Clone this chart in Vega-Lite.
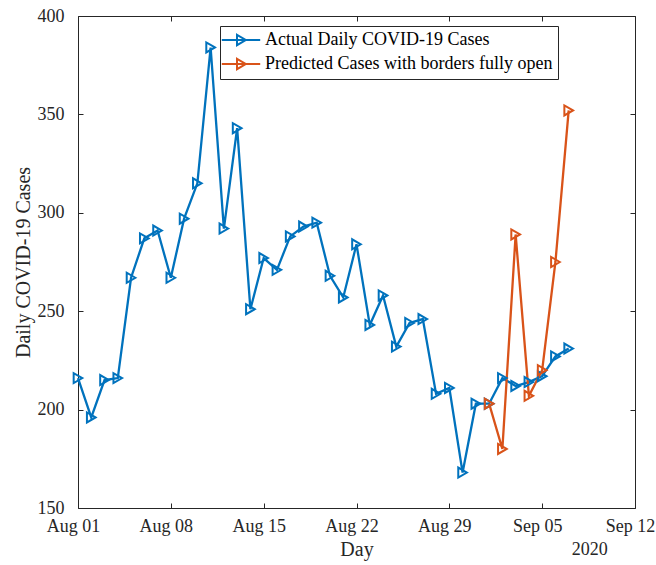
{
  "$schema": "https://vega.github.io/schema/vega-lite/v6.json",
  "width": 557,
  "height": 492,
  "autosize": "none",
  "padding": {"left": 78, "top": 16, "right": 21, "bottom": 57},
  "background": "white",
  "config": {
    "font": "Liberation Serif",
    "view": {"stroke": "#262626", "strokeWidth": 1},
    "axis": {
      "grid": false,
      "domainColor": "#262626",
      "tickColor": "#262626",
      "tickSize": -5,
      "labelFont": "Liberation Serif",
      "labelFontSize": 18,
      "labelColor": "#262626",
      "titleFont": "Liberation Serif",
      "titleFontSize": 20,
      "titleFontWeight": "normal",
      "titleColor": "#262626"
    }
  },
  "datasets": {
    "cases": [
      {"date": "2020-08-01T00:00:00", "cases": 216, "series": "Actual Daily COVID-19 Cases"},
      {"date": "2020-08-02T00:00:00", "cases": 196, "series": "Actual Daily COVID-19 Cases"},
      {"date": "2020-08-03T00:00:00", "cases": 215, "series": "Actual Daily COVID-19 Cases"},
      {"date": "2020-08-04T00:00:00", "cases": 216, "series": "Actual Daily COVID-19 Cases"},
      {"date": "2020-08-05T00:00:00", "cases": 267, "series": "Actual Daily COVID-19 Cases"},
      {"date": "2020-08-06T00:00:00", "cases": 287, "series": "Actual Daily COVID-19 Cases"},
      {"date": "2020-08-07T00:00:00", "cases": 291, "series": "Actual Daily COVID-19 Cases"},
      {"date": "2020-08-08T00:00:00", "cases": 267, "series": "Actual Daily COVID-19 Cases"},
      {"date": "2020-08-09T00:00:00", "cases": 297, "series": "Actual Daily COVID-19 Cases"},
      {"date": "2020-08-10T00:00:00", "cases": 315, "series": "Actual Daily COVID-19 Cases"},
      {"date": "2020-08-11T00:00:00", "cases": 384, "series": "Actual Daily COVID-19 Cases"},
      {"date": "2020-08-12T00:00:00", "cases": 292, "series": "Actual Daily COVID-19 Cases"},
      {"date": "2020-08-13T00:00:00", "cases": 343, "series": "Actual Daily COVID-19 Cases"},
      {"date": "2020-08-14T00:00:00", "cases": 251, "series": "Actual Daily COVID-19 Cases"},
      {"date": "2020-08-15T00:00:00", "cases": 277, "series": "Actual Daily COVID-19 Cases"},
      {"date": "2020-08-16T00:00:00", "cases": 271, "series": "Actual Daily COVID-19 Cases"},
      {"date": "2020-08-17T00:00:00", "cases": 288, "series": "Actual Daily COVID-19 Cases"},
      {"date": "2020-08-18T00:00:00", "cases": 293, "series": "Actual Daily COVID-19 Cases"},
      {"date": "2020-08-19T00:00:00", "cases": 295, "series": "Actual Daily COVID-19 Cases"},
      {"date": "2020-08-20T00:00:00", "cases": 268, "series": "Actual Daily COVID-19 Cases"},
      {"date": "2020-08-21T00:00:00", "cases": 257, "series": "Actual Daily COVID-19 Cases"},
      {"date": "2020-08-22T00:00:00", "cases": 284, "series": "Actual Daily COVID-19 Cases"},
      {"date": "2020-08-23T00:00:00", "cases": 243, "series": "Actual Daily COVID-19 Cases"},
      {"date": "2020-08-24T00:00:00", "cases": 258, "series": "Actual Daily COVID-19 Cases"},
      {"date": "2020-08-25T00:00:00", "cases": 232, "series": "Actual Daily COVID-19 Cases"},
      {"date": "2020-08-26T00:00:00", "cases": 244, "series": "Actual Daily COVID-19 Cases"},
      {"date": "2020-08-27T00:00:00", "cases": 246, "series": "Actual Daily COVID-19 Cases"},
      {"date": "2020-08-28T00:00:00", "cases": 208, "series": "Actual Daily COVID-19 Cases"},
      {"date": "2020-08-29T00:00:00", "cases": 211, "series": "Actual Daily COVID-19 Cases"},
      {"date": "2020-08-30T00:00:00", "cases": 168, "series": "Actual Daily COVID-19 Cases"},
      {"date": "2020-08-31T00:00:00", "cases": 203, "series": "Actual Daily COVID-19 Cases"},
      {"date": "2020-09-01T00:00:00", "cases": 203, "series": "Actual Daily COVID-19 Cases"},
      {"date": "2020-09-02T00:00:00", "cases": 216, "series": "Actual Daily COVID-19 Cases"},
      {"date": "2020-09-03T00:00:00", "cases": 212, "series": "Actual Daily COVID-19 Cases"},
      {"date": "2020-09-04T00:00:00", "cases": 214, "series": "Actual Daily COVID-19 Cases"},
      {"date": "2020-09-05T00:00:00", "cases": 217, "series": "Actual Daily COVID-19 Cases"},
      {"date": "2020-09-06T00:00:00", "cases": 227, "series": "Actual Daily COVID-19 Cases"},
      {"date": "2020-09-07T00:00:00", "cases": 231, "series": "Actual Daily COVID-19 Cases"},
      {"date": "2020-09-01T00:00:00", "cases": 203, "series": "Predicted Cases with borders fully open"},
      {"date": "2020-09-02T00:00:00", "cases": 180, "series": "Predicted Cases with borders fully open"},
      {"date": "2020-09-03T00:00:00", "cases": 289, "series": "Predicted Cases with borders fully open"},
      {"date": "2020-09-04T00:00:00", "cases": 207, "series": "Predicted Cases with borders fully open"},
      {"date": "2020-09-05T00:00:00", "cases": 220, "series": "Predicted Cases with borders fully open"},
      {"date": "2020-09-06T00:00:00", "cases": 275, "series": "Predicted Cases with borders fully open"},
      {"date": "2020-09-07T00:00:00", "cases": 352, "series": "Predicted Cases with borders fully open"}
    ],
    "yearlabel": [
      {"date": "2020-09-08T14:00:00", "cases": 150, "label": "2020"}
    ]
  },
  "layer": [
    {
      "data": {"name": "cases"},
      "mark": {
        "type": "line",
        "strokeWidth": 2.3,
        "point": {"shape": "triangle-right", "filled": false, "size": 100, "strokeWidth": 2}
      },
      "encoding": {
        "x": {
          "field": "date",
          "type": "temporal",
          "title": "Day",
          "scale": {"domain": [{"year": 2020, "month": 8, "date": 1}, {"year": 2020, "month": 9, "date": 12}]},
          "axis": {
            "values": [
              {"year": 2020, "month": 8, "date": 1},
              {"year": 2020, "month": 8, "date": 8},
              {"year": 2020, "month": 8, "date": 15},
              {"year": 2020, "month": 8, "date": 22},
              {"year": 2020, "month": 8, "date": 29},
              {"year": 2020, "month": 9, "date": 5},
              {"year": 2020, "month": 9, "date": 12}
            ],
            "format": "%b %d",
            "labelPadding": 14,
            "labelOffset": -5,
            "titlePadding": 4,
            "domain": false,
            "labelFlush": false,
            "labelOverlap": false
          }
        },
        "y": {
          "field": "cases",
          "type": "quantitative",
          "title": "Daily COVID-19 Cases",
          "scale": {"domain": [150, 400], "nice": false, "zero": false},
          "axis": {"values": [150, 200, 250, 300, 350, 400], "labelPadding": 19, "titlePadding": 4, "domain": false}
        },
        "color": {
          "field": "series",
          "type": "nominal",
          "scale": {
            "domain": ["Actual Daily COVID-19 Cases", "Predicted Cases with borders fully open"],
            "range": ["#0072BD", "#D95319"]
          },
          "legend": {
            "title": null,
            "orient": "none",
            "legendX": 142,
            "legendY": 10,
            "strokeColor": "#262626",
            "fillColor": "white",
            "padding": 5,
            "labelFont": "Liberation Serif",
            "labelFontSize": 18,
            "labelColor": "black",
            "labelLimit": 500,
            "symbolType": "M-2.4,0H2.4M-0.5,-0.65L0.6,0L-0.5,0.65Z",
            "symbolSize": 256,
            "symbolStrokeWidth": 2,
            "symbolFillColor": "transparent",
            "symbolOffset": 7,
            "labelOffset": 15,
            "rowPadding": 4
          }
        }
      }
    },
    {
      "data": {"name": "cases"},
      "mark": {"type": "point", "opacity": 0},
      "encoding": {
        "x": {
          "field": "date",
          "type": "temporal",
          "scale": {"domain": [{"year": 2020, "month": 8, "date": 1}, {"year": 2020, "month": 9, "date": 12}]},
          "axis": {
            "orient": "top",
            "labels": false,
            "title": null,
            "domain": false,
            "values": [
              {"year": 2020, "month": 8, "date": 1},
              {"year": 2020, "month": 8, "date": 8},
              {"year": 2020, "month": 8, "date": 15},
              {"year": 2020, "month": 8, "date": 22},
              {"year": 2020, "month": 8, "date": 29},
              {"year": 2020, "month": 9, "date": 5},
              {"year": 2020, "month": 9, "date": 12}
            ]
          }
        },
        "y": {
          "field": "cases",
          "type": "quantitative",
          "scale": {"domain": [150, 400], "nice": false, "zero": false},
          "axis": {"orient": "right", "labels": false, "title": null, "domain": false, "values": [150, 200, 250, 300, 350, 400]}
        }
      }
    },
    {
      "data": {"name": "yearlabel"},
      "mark": {"type": "text", "fontSize": 18, "font": "Liberation Serif", "color": "#262626", "dy": 42, "align": "center", "baseline": "middle"},
      "encoding": {
        "x": {
          "field": "date",
          "type": "temporal",
          "scale": {"domain": [{"year": 2020, "month": 8, "date": 1}, {"year": 2020, "month": 9, "date": 12}]},
          "axis": null
        },
        "y": {
          "field": "cases",
          "type": "quantitative",
          "scale": {"domain": [150, 400], "nice": false, "zero": false},
          "axis": null
        },
        "text": {"field": "label"}
      }
    }
  ],
  "resolve": {"scale": {"x": "independent", "y": "independent"}}
}
